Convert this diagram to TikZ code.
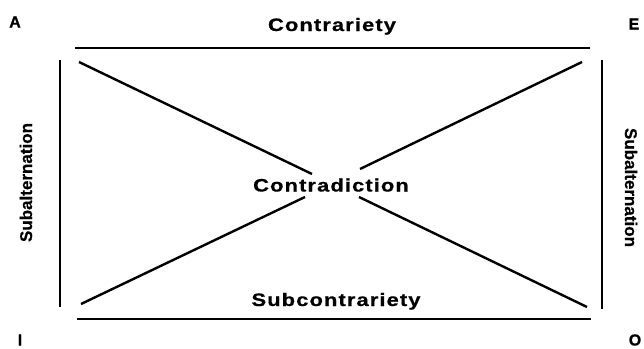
\documentclass[tikz,border=0pt]{standalone}
\usepackage{fontspec}
\setmainfont{Liberation Sans}
\newfontfamily\labelfont[FakeStretch=1.22,LetterSpace=6,FakeBold=0.6]{Liberation Sans}
\newfontfamily\sidefont[FakeBold=0.6]{Liberation Sans}
\newfontfamily\cornerfont[FakeBold=0.6]{Liberation Sans}
\begin{document}
\begin{tikzpicture}[x=1pt,y=-1pt,
  relline/.style={line width=2.4pt},
  corner/.style={inner sep=0pt,font=\cornerfont\fontsize{16}{18}\selectfont\bfseries},
  rellabel/.style={anchor=base,inner sep=0pt,font=\labelfont\fontsize{18}{20}\selectfont\bfseries},
  sidelabel/.style={anchor=base,inner sep=0pt,font=\sidefont\fontsize{17}{19}\selectfont\bfseries}]
\useasboundingbox (0,0) rectangle (644,348);
% corners
\node[corner] (A) at (15,22) {A};
\node[corner] (E) at (634,24) {E};
\node[corner] (I) at (20,340) {I};
\node[corner] (O) at (635,340) {O};
% line ends
\coordinate (t1) at (75,48);  \coordinate (t2) at (590,48);
\coordinate (b1) at (77,319); \coordinate (b2) at (591,319);
\coordinate (l1) at (60,60);  \coordinate (l2) at (60,307);
\coordinate (r1) at (602,60); \coordinate (r2) at (602,309);
\coordinate (d1a) at (79,62);   \coordinate (d1b) at (312,174);
\coordinate (d1c) at (359,197); \coordinate (d1d) at (587,307);
\coordinate (d2a) at (81,304);  \coordinate (d2b) at (305,197);
\coordinate (d2c) at (360,169); \coordinate (d2d) at (582,62);
% relations
\draw[relline] (t1) -- (t2);
\draw[relline] (b1) -- (b2);
\draw[relline] (l1) -- (l2);
\draw[relline] (r1) -- (r2);
\draw[relline] (d1a) -- (d1b);
\draw[relline] (d1c) -- (d1d);
\draw[relline] (d2a) -- (d2b);
\draw[relline] (d2c) -- (d2d);
% labels
\node[rellabel] (contrariety) at (332,31) {Contrariety};
\node[rellabel] (contradiction) at (331,191.5) {Contradiction};
\node[rellabel] (subcontrariety) at (336,306) {Subcontrariety};
\node[sidelabel,rotate=90] (subL) at (32,182.5) {Subalternation};
\node[sidelabel,rotate=-90] (subR) at (625,187.5) {Subalternation};
\end{tikzpicture}
\end{document}
